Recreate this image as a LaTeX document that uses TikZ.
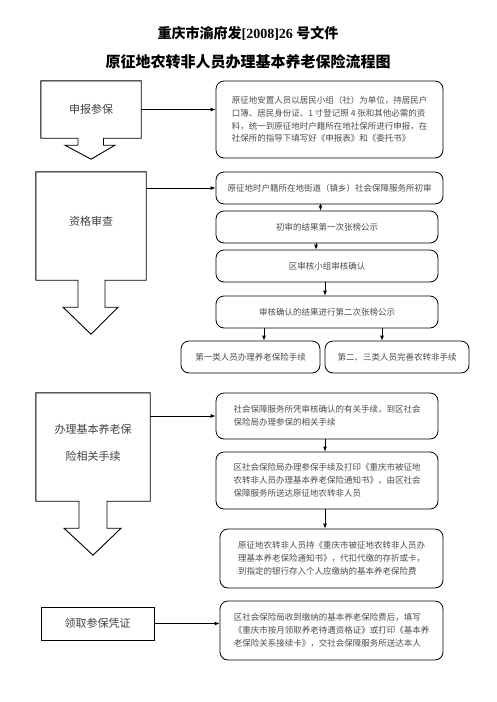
\documentclass[tikz,border=0pt]{standalone}
\usepackage{fontspec}
\setmainfont{Liberation Serif}
\newfontfamily\cjk{Noto Sans CJK SC}
\usetikzlibrary{arrows.meta,calc}
\begin{document}
\begin{tikzpicture}[x=1pt,y=-1pt,
  rbox/.style={draw=black,line width=0.8pt,rounded corners=8pt,inner sep=0pt,
    font=\cjk\fontsize{8.5}{12.8}\selectfont,text=black!70,align=left},
  lbl/.style={inner sep=0pt,font=\cjk\fontsize{11}{27}\selectfont,text=black!75,align=center},
  blk/.style={draw=black,line width=0.9pt},
  arr/.style={draw=black,line width=0.8pt,-{Latex[length=5pt,width=4pt]}}]
\useasboundingbox (0,0) rectangle (496,702);

% titles
\node[inner sep=0pt] (t1) at (248,33) {\cjk\bfseries\fontsize{14}{16}\selectfont 重庆市渝府发{\rmfamily\bfseries[2008]26 }号文件};
\node[inner sep=0pt] (t2) at (248,62) {\cjk\bfseries\fontsize{15}{17}\selectfont 原征地农转非人员办理基本养老保险流程图};

% left block labels
\node[lbl,minimum width=100pt,minimum height=57pt] (b1) at (91,109.5) {申报参保};
\node[lbl,minimum width=110pt,minimum height=108pt] (b2) at (91,226) {};
\node[lbl] (b2t) at (91,221) {资格审查};
\node[lbl,minimum width=114pt,minimum height=108pt] (b3) at (93,447) {};
\node[lbl] (b3t) at (93,442.5) {办理基本养老保\\险相关手续};
\node[lbl,draw=black,line width=0.9pt,minimum width=113pt,minimum height=33pt] (b4) at (97.5,623.5) {领取参保凭证};

% block arrows outlines
\draw[blk] (b1.south west) -- (b1.north west) -- (b1.north east) -- (b1.south east)
  -- ($(b1.south)+(12.5,0)$) -- ($(b1.south)+(12.5,7)$) -- ($(b1.south)+(24,7)$)
  -- ($(b1.south)+(0,21)$) -- ($(b1.south)+(-26,7)$) -- ($(b1.south)+(-13,7)$)
  -- ($(b1.south)+(-13,0)$) -- cycle;
\draw[blk] (b2.south west) -- (b2.north west) -- (b2.north east) -- (b2.south east)
  -- ($(b2.south)+(14,0)$) -- ($(b2.south)+(14,27)$) -- ($(b2.south)+(27,27)$)
  -- ($(b2.south)+(0,54)$) -- ($(b2.south)+(-28,27)$) -- ($(b2.south)+(-13,27)$)
  -- ($(b2.south)+(-13,0)$) -- cycle;
\draw[blk] (b3.south west) -- (b3.north west) -- (b3.north east) -- (b3.south east)
  -- ($(b3.south)+(14,0)$) -- ($(b3.south)+(14,27)$) -- ($(b3.south)+(28,27)$)
  -- ($(b3.south)+(0,54)$) -- ($(b3.south)+(-29,27)$) -- ($(b3.south)+(-14,27)$)
  -- ($(b3.south)+(-14,0)$) -- cycle;

% right boxes
\node[rbox,minimum width=227pt,minimum height=77pt] (r1) at (329.5,119.5)
 {原征地安置人员以居民小组（社）为单位，持居民户\\口簿、居民身份证、1 寸登记照 4 张和其他必需的资\\料，统一到原征地时户籍所在地社保所进行申报，在\\社保所的指导下填写好《申报表》和《委托书》};
\node[rbox,minimum width=227pt,minimum height=32pt] (r2) at (329.5,188)
 {原征地时户籍所在地街道（镇乡）社会保障服务所初审};
\node[rbox,minimum width=222pt,minimum height=32pt] (r3) at (327,227)
 {初审的结果第一次张榜公示};
\node[rbox,minimum width=222pt,minimum height=32pt] (r4) at (327,266)
 {区审核小组审核确认};
\node[rbox,minimum width=222pt,minimum height=32pt] (r5) at (327,312)
 {审核确认的结果进行第二次张榜公示};
\node[rbox,minimum width=139pt,minimum height=32pt] (r6) at (250.5,357)
 {第一类人员办理养老保险手续};
\node[rbox,minimum width=144pt,minimum height=32pt] (r7) at (397,357)
 {第二、三类人员完善农转非手续};
\node[rbox,minimum width=222pt,minimum height=46pt] (r8) at (327,416)
 {社会保障服务所凭审核确认的有关手续，到区社会\\保险局办理参保的相关手续\hspace{98pt}};
\node[rbox,minimum width=222pt,minimum height=57pt] (r9) at (327,480.5)
 {区社会保险局办理参保手续及打印《重庆市被征地\\农转非人员办理基本养老保险通知书》，由区社会\\保障服务所送达原征地农转非人员};
\node[rbox,minimum width=223pt,minimum height=59pt] (r10) at (331.5,558.5)
 {原征地农转非人员持《重庆市被征地农转非人员办\\理基本养老保险通知书》，代扣代缴的存折或卡，\\到指定的银行存入个人应缴纳的基本养老保险费};
\node[rbox,minimum width=223pt,minimum height=59pt] (r11) at (331.5,630.5)
 {区社会保险局收到缴纳的基本养老保险费后，填写\\《重庆市按月领取养老待遇资格证》或打印《基本养\\老保险关系接续卡》，交社会保障服务所送达本人};

% horizontal connectors
\draw[arr] (b1.east) -- (b1.east -| r1.west);
\draw[arr] (r2.west -| b2.east) -- (r2.west);
\draw[arr] (r8.west -| b3.east) -- (r8.west);
\draw[arr] (b4.east) -- (b4.east -| r11.west);

% vertical connectors
\draw[arr] ([xshift=-9pt]r2.south) -- ([xshift=-9pt]r2.south |- r3.north);
\draw[arr] ([xshift=-11pt]r3.south) -- ([xshift=-11pt]r3.south |- r4.north);
\draw[arr] ([xshift=-2pt]r4.south) -- ([xshift=-2pt]r4.south |- r5.north);
\draw[arr] ([xshift=13.5pt]r6.north |- r5.south) -- ([xshift=13.5pt]r6.north);
\draw[arr] ([xshift=-15pt]r7.north |- r5.south) -- ([xshift=-15pt]r7.north);
\draw[arr] ([xshift=-2pt]r8.south) -- ([xshift=-2pt]r8.south |- r9.north);
\draw[arr] ([xshift=-2pt]r9.south) -- ([xshift=-2pt]r9.south |- r10.north);
\end{tikzpicture}
\end{document}
